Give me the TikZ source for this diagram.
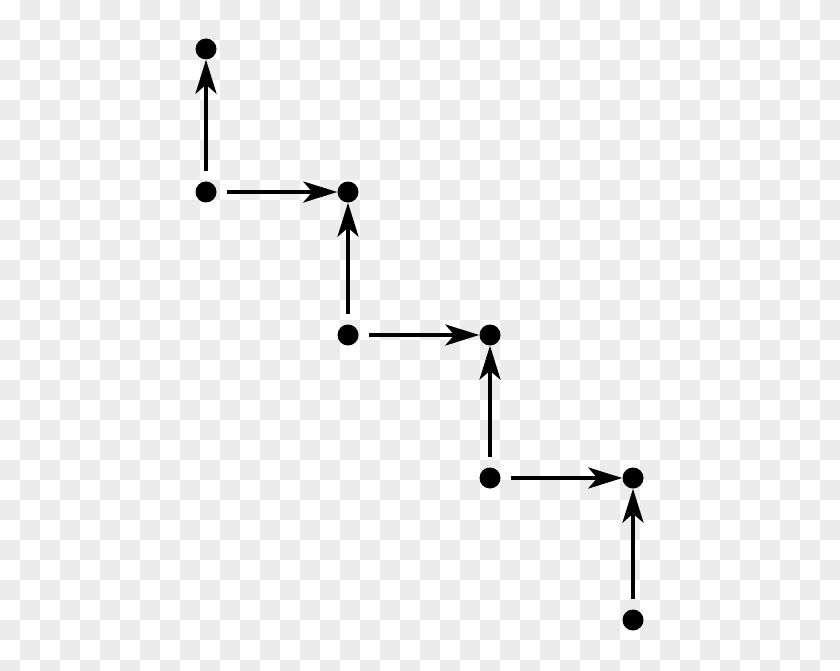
\documentclass[tikz,border=0pt]{standalone}
\usetikzlibrary{arrows.meta}
\definecolor{checkgray}{HTML}{ECECEC}
\tikzset{
  dot/.style={circle,fill=black,inner sep=0pt,minimum size=21pt},
  link/.style={line width=4.2pt,shorten <=10pt,-{Stealth[length=34pt,width=21pt,inset=9pt]}}
}
\begin{document}
\begin{tikzpicture}[x=1pt,y=-1pt]
\useasboundingbox (0,0) rectangle (840,671);
\fill[white] (0,0) rectangle (840,671);
\foreach \i in {0,...,41}{
  \foreach \j in {0,...,33}{
    \pgfmathtruncatemacro{\p}{mod(\i+\j,2)}
    \ifnum\p=1
      \fill[checkgray] (\i*20,\j*20) rectangle ({min(\i*20+20,840)},{min(\j*20+20,671)});
    \fi
  }
}
\node[dot] (a) at (206,49) {};
\node[dot] (b) at (206,192) {};
\node[dot] (c) at (348,192) {};
\node[dot] (d) at (348,335) {};
\node[dot] (e) at (490,335) {};
\node[dot] (f) at (490,478) {};
\node[dot] (g) at (633,478) {};
\node[dot] (h) at (633,620) {};
\draw[link] (b) -- (a);
\draw[link] (b) -- (c);
\draw[link] (d) -- (c);
\draw[link] (d) -- (e);
\draw[link] (f) -- (e);
\draw[link] (f) -- (g);
\draw[link] (h) -- (g);
\end{tikzpicture}
\end{document}
